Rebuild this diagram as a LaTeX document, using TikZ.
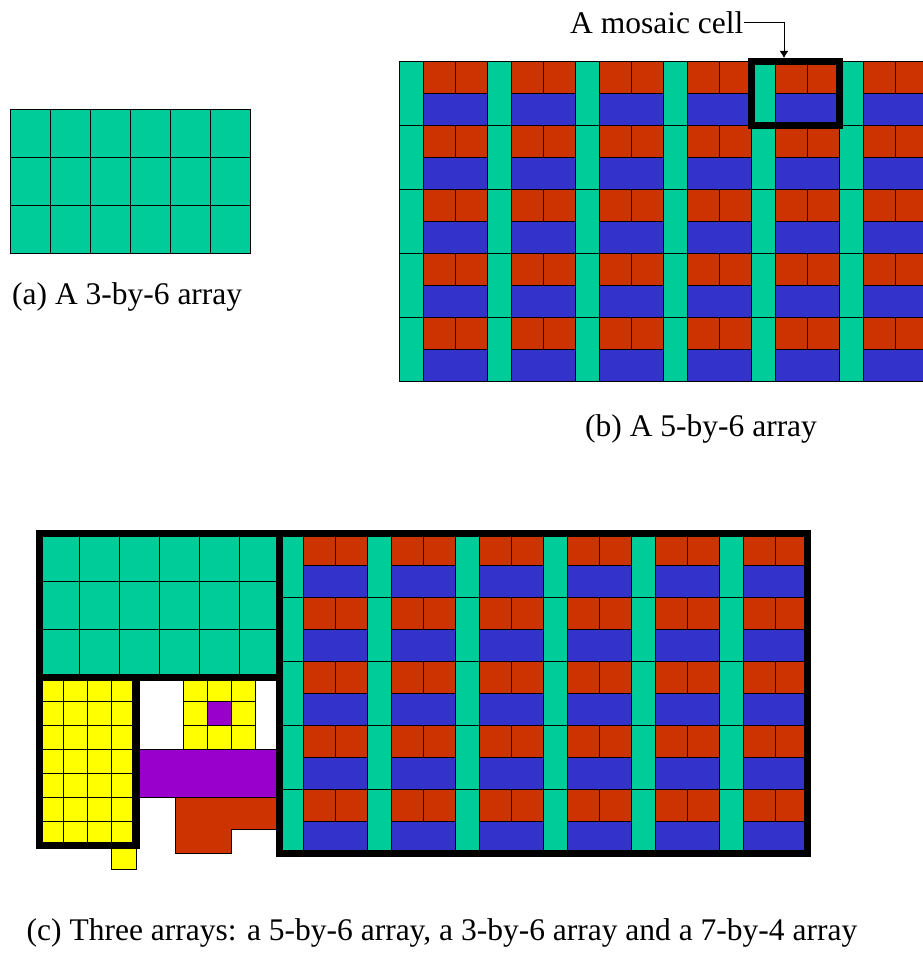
\documentclass[tikz,border=0pt]{standalone}
\usepackage{fontspec}
\setmainfont{Liberation Serif}
\usetikzlibrary{arrows.meta}
\definecolor{MosaicTeal}{HTML}{00CC99}
\definecolor{BrickRed}{HTML}{CC3300}
\definecolor{BrickBlue}{HTML}{3333CC}
\definecolor{TileYellow}{HTML}{FFFF00}
\definecolor{TilePurple}{HTML}{9900CC}

\begin{document}
\begin{tikzpicture}[x=1pt,y=-1pt, every node/.style={font={\fontsize{31.5}{36}\selectfont}, inner sep=0pt},
    celltile/.style={draw=black, line width=1pt},
    arrayframe/.style={draw=black, line width=7.5pt}]
  \useasboundingbox (0,0) rectangle (923,953);
  \foreach \ox/\oy in {10/109.5,39.5/533.7}
    \foreach \i in {0,...,5}
      \foreach \j in {0,...,2}
        \draw[celltile, fill=MosaicTeal] ({\ox+40*\i},{\oy+48*\j}) rectangle +(40,48);
  \foreach \ox/\oy in {399.5/61.7,279.7/533.7}
    \foreach \i in {0,...,5}
      \foreach \j in {0,...,4} {
        \draw[celltile, fill=MosaicTeal] ({\ox+88*\i},{\oy+64*\j}) rectangle +(24,64);
        \draw[celltile, fill=BrickRed] ({\ox+88*\i+24},{\oy+64*\j}) rectangle +(32,32);
        \draw[celltile, fill=BrickRed] ({\ox+88*\i+56},{\oy+64*\j}) rectangle +(32,32);
        \draw[celltile, fill=BrickBlue] ({\ox+88*\i+24},{\oy+64*\j+32}) rectangle +(64,32);
      }
  \foreach \i in {0,...,3}
    \foreach \j in {0,...,6}
      \draw[celltile, fill=TileYellow] ({39.5+24.1*\i},{677.7+24*\j}) rectangle +(24.1,24);
  \draw[celltile, fill=TileYellow] (111.9,845.7) rectangle (136,869.7);
  \foreach \i in {0,...,2}
    \foreach \j in {0,...,2}
      \draw[celltile, fill=TileYellow] ({183.5+24*\i},{677.7+24*\j}) rectangle +(24,24);
  \draw[celltile, fill=TilePurple] (207.5,701.7) rectangle +(24,24);
  \draw[celltile, fill=TilePurple] (136,749.7) rectangle (279.7,797.7);
  \draw[celltile, fill=BrickRed] (175.5,797.7) -- (279.7,797.7) -- (279.7,829.7) -- (231.5,829.7)
    -- (231.5,853.7) -- (175.5,853.7) -- cycle;
  \draw[arrayframe] (39.5,533.7) rectangle (279.7,677.7);
  \draw[arrayframe] (39.5,677.7) rectangle (136,845.7);
  \draw[arrayframe] (279.7,533.7) rectangle (807.7,853.7);
  \node[draw=black, line width=7.5pt, minimum width=88pt, minimum height=64pt] (mosaiccell) at (795.6,93.7) {};
  \node[anchor=base west] (mosaiclabel) at (570,33.3) {A mosaic cell};
  \draw[line width=1pt, -{Latex[length=7pt,width=9pt]}] (mosaiclabel.east) -| ([xshift=-11.6pt]mosaiccell.north);
  \node[anchor=base west] (labela) at (12,304) {(a) A 3-by-6 array};
  \node[anchor=base west] (labelb) at (585,436.7) {(b) A 5-by-6 array};
  \node[anchor=base west] (labelc) at (26.5,940.6) {(c) Three arrays: a 5-by-6 array, a 3-by-6 array and a 7-by-4 array};
\end{tikzpicture}
\end{document}
